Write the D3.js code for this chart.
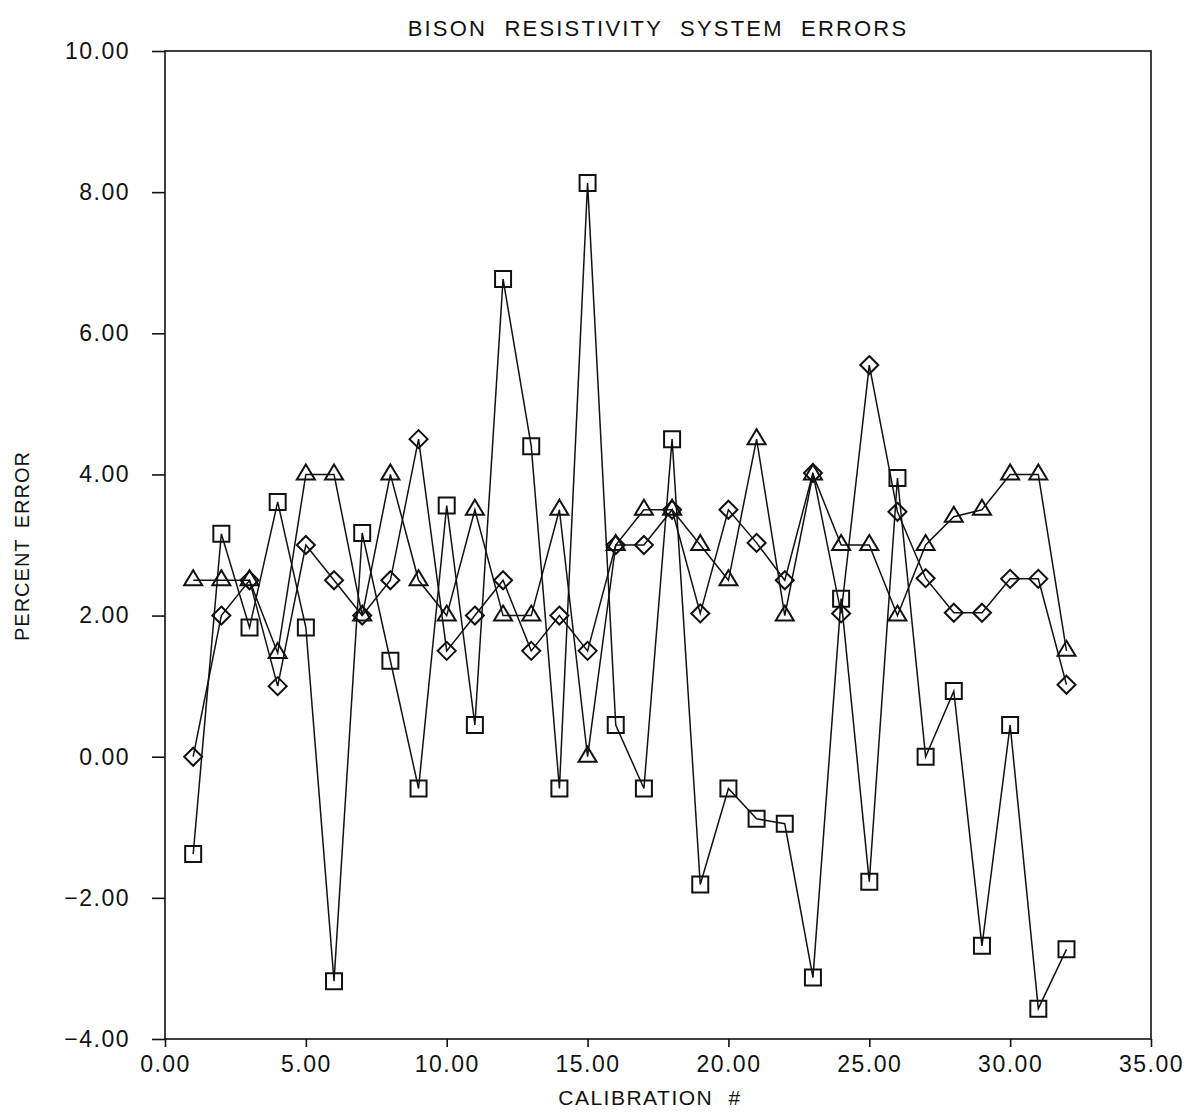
<!DOCTYPE html>
<html lang="en">
<head>
  <meta charset="UTF-8">
  <title>Bison Resistivity System Errors</title>
  <script src="https://d3js.org/d3.v7.min.js"></script>
  <style>
    body { margin: 0; background: #fff; }
    text { font-family: "Liberation Sans", Arial, sans-serif; fill: #111; }
    .axis text { font-size: 23px; letter-spacing: 1.5px; }
    .axis path, .axis line { stroke: #111; stroke-width: 1.6px; }
    .series { fill: none; stroke: #111; stroke-width: 1.5px; }
    .marker { fill: none; stroke: #111; stroke-width: 2px; }
  </style>
</head>
<body>
  <script>
    // calibration numbers 1..32
    const calibration = d3.range(1, 33);

    const squares = [-1.38, 3.16, 1.83, 3.61, 1.83, -3.18, 3.17, 1.36, -0.45, 3.56,
      0.45, 6.77, 4.40, -0.45, 8.13, 0.45, -0.45, 4.50, -1.81, -0.45,
      -0.88, -0.95, -3.13, 2.24, -1.77, 3.95, 0.0, 0.93, -2.68, 0.45,
      -3.57, -2.73];

    const diamonds = [0.0, 2.0, 2.5, 1.0, 3.0, 2.5, 2.0, 2.5, 4.5, 1.5,
      2.0, 2.5, 1.5, 2.0, 1.5, 3.0, 3.0, 3.5, 2.03, 3.5,
      3.03, 2.5, 4.02, 2.03, 5.55, 3.47, 2.53, 2.04, 2.04, 2.52,
      2.52, 1.02];

    const triangles = [2.5, 2.5, 2.5, 1.47, 4.0, 4.0, 2.0, 4.0, 2.5, 2.0,
      3.5, 2.0, 2.0, 3.5, 0.0, 3.0, 3.5, 3.5, 3.0, 2.5,
      4.5, 2.0, 4.0, 3.0, 3.0, 2.0, 3.0, 3.4, 3.5, 4.0,
      4.0, 1.5];

    const xTicks = [0, 5, 10, 15, 20, 25, 30, 35];
    const yTicks = [-4, -2, 0, 2, 4, 6, 8, 10];

    const W = 1187, H = 1114;
    const margin = {top: 51, right: 36, bottom: 75, left: 165};
    const width = W - margin.left - margin.right;
    const height = H - margin.top - margin.bottom;

    const x = d3.scaleLinear().domain([0, 35]).range([0, width]);
    const y = d3.scaleLinear().domain([-4, 10]).range([height, 0]);

    const svg = d3.select("body").append("svg")
      .attr("width", W)
      .attr("height", H);

    svg.append("text")
      .attr("x", 658)
      .attr("y", 36)
      .attr("text-anchor", "middle")
      .style("font-size", "22px")
      .style("letter-spacing", "2.2px")
      .style("word-spacing", "9px")
      .text("BISON RESISTIVITY SYSTEM ERRORS");

    const g = svg.append("g")
      .attr("transform", "translate(" + margin.left + "," + margin.top + ")");

    // frame
    g.append("rect")
      .attr("width", width)
      .attr("height", height)
      .attr("fill", "none")
      .attr("stroke", "#111")
      .attr("stroke-width", 1.6);

    const xAxis = g.append("g")
      .attr("class", "axis")
      .attr("transform", "translate(0," + height + ")")
      .call(d3.axisBottom(x).tickValues(xTicks).tickFormat(d3.format(".2f")).tickSize(8).tickSizeOuter(0).tickPadding(9));
    xAxis.select(".domain").remove();

    const yAxis = g.append("g")
      .attr("class", "axis")
      .call(d3.axisLeft(y).tickValues(yTicks).tickFormat(d3.format(".2f")).tickSize(13).tickSizeOuter(0).tickPadding(22));
    yAxis.select(".domain").remove();

    svg.append("text")
      .attr("x", 650)
      .attr("y", 1105)
      .attr("text-anchor", "middle")
      .style("font-size", "21px")
      .style("letter-spacing", "1.5px")
      .style("word-spacing", "8px")
      .text("CALIBRATION #");

    svg.append("text")
      .attr("transform", "translate(29,546) rotate(-90)")
      .attr("text-anchor", "middle")
      .style("font-size", "20px")
      .style("letter-spacing", "1px")
      .style("word-spacing", "4px")
      .text("PERCENT ERROR");

    const line = d3.line()
      .x((d, i) => x(calibration[i]))
      .y(d => y(d));

    const series = [
      {name: "square", values: squares},
      {name: "diamond", values: diamonds},
      {name: "triangle", values: triangles}
    ];

    g.selectAll(".series")
      .data(series)
      .enter().append("path")
        .attr("class", "series")
        .attr("d", d => line(d.values));

    const shapes = {
      square: d3.symbol().type(d3.symbolSquare).size(256)(),
      diamond: "M0,-9L9,0L0,9L-9,0Z",
      triangle: "M0,-10L9,5L-9,5Z"
    };

    series.forEach(s => {
      g.selectAll(".m-" + s.name)
        .data(s.values)
        .enter().append("path")
          .attr("class", "marker m-" + s.name)
          .attr("transform", (d, i) => "translate(" + x(calibration[i]) + "," + y(d) + ")")
          .attr("d", shapes[s.name]);
    });
  </script>
</body>
</html>
